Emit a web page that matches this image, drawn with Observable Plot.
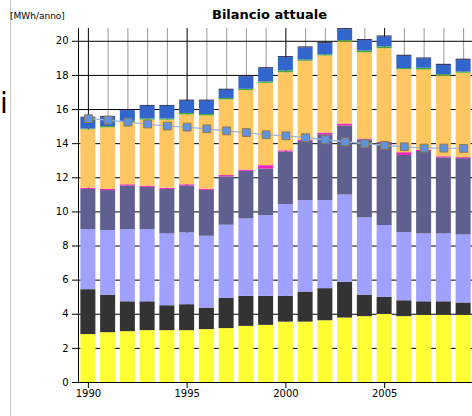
<!DOCTYPE html>
<html>
<head>
<meta charset="utf-8">
<script src="https://cdn.jsdelivr.net/npm/d3@7"></script>
<script src="https://cdn.jsdelivr.net/npm/@observablehq/plot@0.6"></script>
<style>
  html, body { margin: 0; padding: 0; background: #fff; }
  #wrap { position: relative; width: 472px; height: 416px; overflow: hidden; font-family: "DejaVu Sans", sans-serif; }
  #chart { position: absolute; left: 0; top: 0; }
  #title { position: absolute; left: 212px; top: 8px; font-size: 13px; line-height: 13px; font-weight: bold; color: #000; white-space: nowrap; }
  #unit { position: absolute; left: 10px; top: 12px; font-size: 9px; line-height: 9px; color: #000; white-space: nowrap; }
  #cut { position: absolute; left: 0px; top: 89px; font-size: 28px; line-height: 30px; color: #000; }
  #vline { position: absolute; left: 10px; top: 0; width: 1px; height: 416px; background: #c8c8c8; }
</style>
</head>
<body>
<div id="wrap">
  <div id="chart"></div>
  <div id="vline"></div>
  <div id="unit">[MWh/anno]</div>
  <div id="title">Bilancio attuale</div>
  <div id="cut">i</div>
</div>
<script>
const years = [1990,1991,1992,1993,1994,1995,1996,1997,1998,1999,2000,2001,2002,2003,2004,2005,2006,2007,2008,2009];

// stacked series values (bottom to top), MWh/anno
const sYellow  = [2.81,2.92,2.98,3.04,3.04,3.04,3.10,3.16,3.29,3.35,3.54,3.54,3.62,3.78,3.86,3.99,3.86,3.94,3.94,3.94];
const sDark    = [2.63,2.20,1.75,1.69,1.46,1.52,1.26,1.77,1.76,1.70,1.51,1.76,1.88,2.09,1.26,1.00,0.93,0.79,0.79,0.72];
const sLilac   = [3.52,3.79,4.23,4.23,4.21,4.21,4.21,4.29,4.54,4.73,5.38,5.36,5.16,5.12,4.53,4.21,4.00,3.98,3.98,3.99];
const sSlate   = [2.36,2.34,2.56,2.48,2.61,2.75,2.69,2.83,2.79,2.73,3.08,3.47,3.86,4.04,4.56,4.81,4.52,4.83,4.45,4.47];
const sMagenta = [0.07,0.07,0.07,0.07,0.07,0.07,0.07,0.08,0.07,0.20,0.07,0.08,0.10,0.12,0.06,0.06,0.16,0.07,0.07,0.06];
const sOrange  = [3.42,3.61,3.65,3.87,3.99,4.10,4.30,4.44,4.66,4.83,4.58,4.62,4.52,4.81,5.06,5.50,4.87,4.71,4.74,4.95];
const sGreen   = [0.05,0.07,0.07,0.07,0.07,0.08,0.08,0.08,0.08,0.08,0.10,0.07,0.07,0.08,0.10,0.10,0.06,0.10,0.08,0.07];
const sBlue    = [0.64,0.55,0.62,0.74,0.74,0.72,0.78,0.48,0.72,0.77,0.78,0.71,0.65,0.64,0.61,0.58,0.72,0.54,0.54,0.69];
const sNavy    = [0.05,0.05,0.05,0.05,0.05,0.06,0.06,0.06,0.06,0.06,0.06,0.06,0.06,0.06,0.06,0.06,0.06,0.06,0.06,0.06];

// line with square markers
const lineValues = [15.47,15.38,15.26,15.15,15.03,14.97,14.87,14.75,14.65,14.52,14.46,14.35,14.23,14.11,14.01,13.90,13.82,13.74,13.74,13.72];

const seriesNames  = ["s1","s2","s3","s4","s5","s6","s7","s8","s9"];
const seriesValues = [sYellow,sDark,sLilac,sSlate,sMagenta,sOrange,sGreen,sBlue,sNavy];
const seriesColors = ["#ffff33","#333333","#a0a0ff","#606090","#ee22bb","#ffc662","#44aa33","#3366cc","#1e1e4a"];

const yTicks = [0,2,4,6,8,10,12,14,16,18,20];
const xTicks = [1990,1995,2000,2005];
const majorYears = years.filter(y => y % 5 === 0);
const minorYears = years.filter(y => y % 5 !== 0);

const rows = [];
years.forEach((yr, i) => {
  seriesNames.forEach((name, j) => rows.push({year: yr, series: name, value: seriesValues[j][i]}));
});
const lineRows = years.map((yr, i) => ({year: yr, value: lineValues[i]}));

const yMax = 20.75;
const half = 0.38;

const chart = Plot.plot({
  width: 472,
  height: 416,
  marginTop: 28,
  marginBottom: 34,
  marginLeft: 78,
  marginRight: -1,
  style: {fontFamily: "DejaVu Sans", fontSize: "10px", background: "transparent", color: "#000"},
  x: {domain: [1989.5, 2009.5], axis: null, label: null},
  y: {domain: [0, yMax], axis: null, label: null},
  color: {domain: seriesNames, range: seriesColors},
  marks: [
    Plot.ruleX(minorYears, {x: d => d, y1: 0, y2: yMax, stroke: "#999999"}),
    Plot.ruleX(majorYears, {x: d => d, y1: 0, y2: yMax, stroke: "#000000"}),
    Plot.ruleY(yTicks.filter(v => v > 0), {y: d => d, stroke: "#000000"}),
    Plot.rectY(rows, {x1: d => d.year - half, x2: d => d.year + half, y: "value", fill: "series"}),
    Plot.line(lineRows, {x: "year", y: "value", stroke: "#9bb4da", strokeWidth: 1.3}),
    Plot.dot(lineRows, {x: "year", y: "value", symbol: "square", r: 4.4, fill: "#5f92e0", stroke: "#8c7a55", strokeWidth: 1}),
    Plot.ruleX([1989.5], {y1: 0, y2: yMax, stroke: "#000"}),
    Plot.ruleY([0], {stroke: "#000"}),
    Plot.axisY({ticks: yTicks, tickSize: 6, tickPadding: 4, tickFormat: d => String(d), fontSize: 10, label: null}),
    Plot.axisX({ticks: xTicks, tickSize: 6, tickPadding: 1, tickFormat: d => String(d), fontSize: 10, label: null})
  ]
});
document.getElementById("chart").appendChild(chart);
</script>
</body>
</html>
